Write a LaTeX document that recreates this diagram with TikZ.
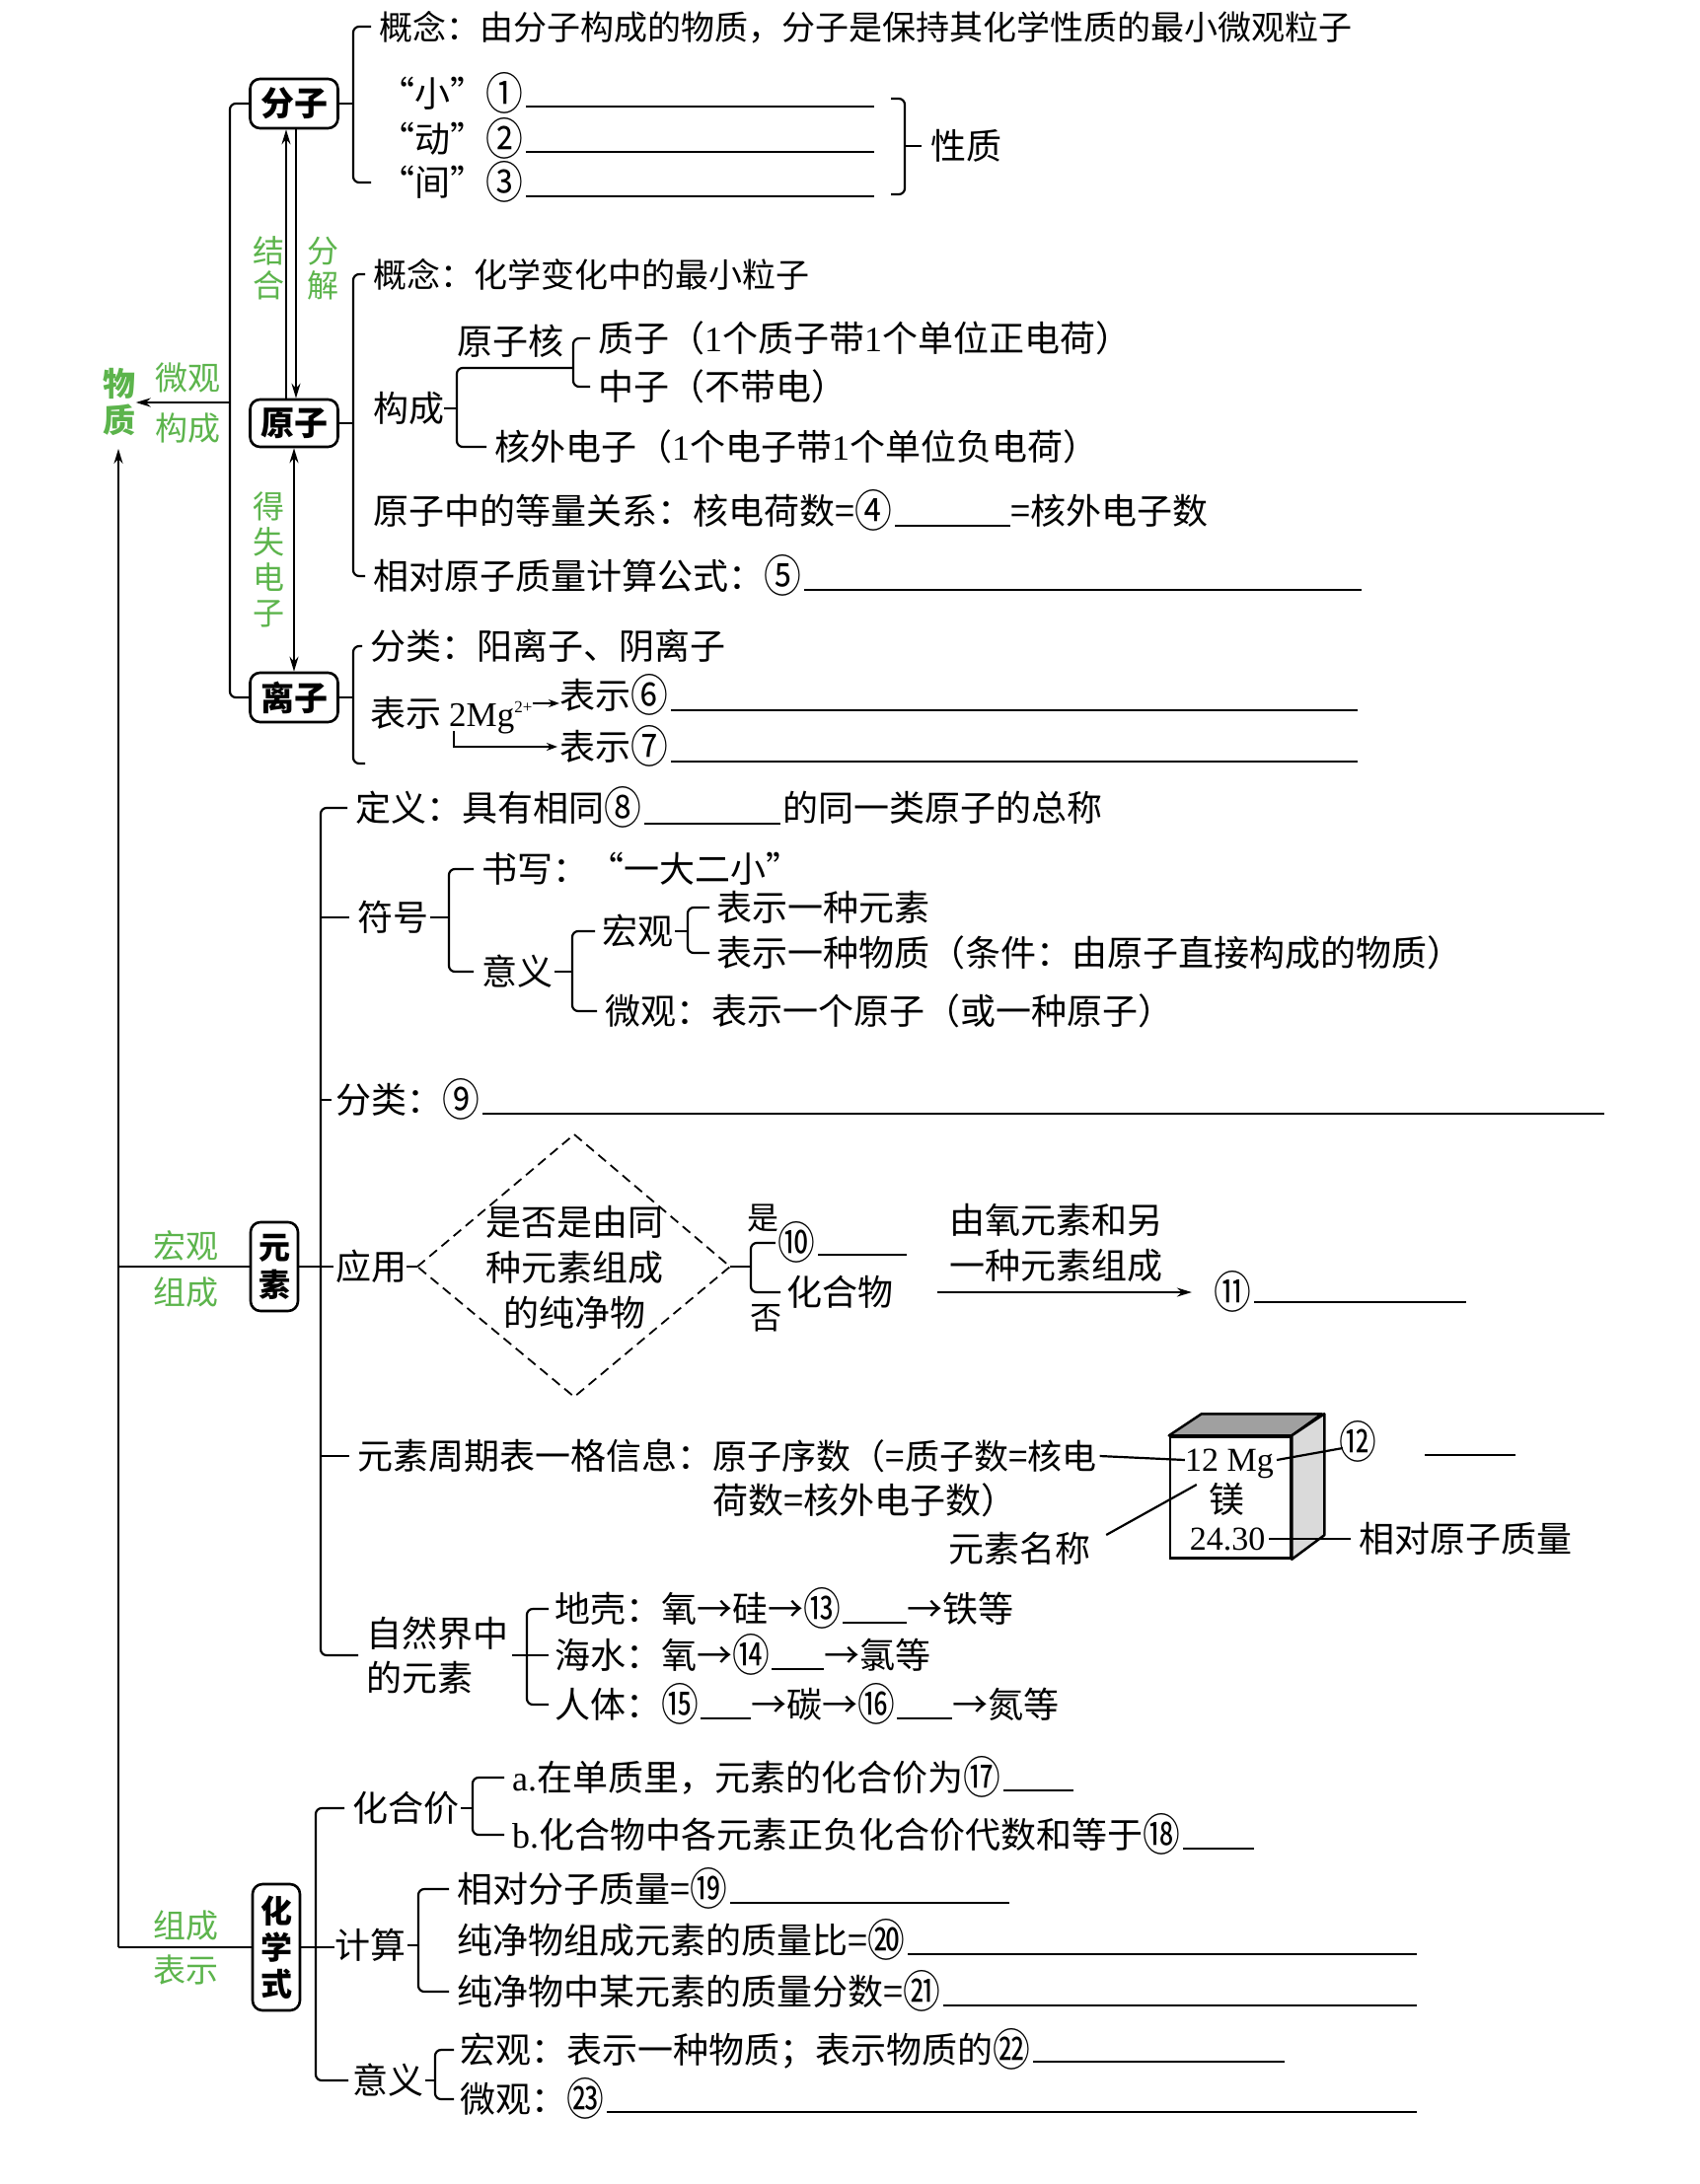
\documentclass[tikz,border=0pt]{standalone}
\usepackage{graphicx}
\usepackage{fontspec}
\setmainfont{Noto Sans CJK SC}
\newfontfamily\tnr{Liberation Serif}
\usetikzlibrary{arrows.meta}
\definecolor{lg}{RGB}{92,180,76}
\definecolor{topgray}{RGB}{160,160,160}
\definecolor{sidegray}{RGB}{218,218,218}
\newcommand\cn[1]{\raisebox{-3.2pt}{\scalebox{1.05}[1.25]{#1}}}
\newcommand\blankln[3]{\path (#1.east) ++(3,#2) coordinate (blkS); \draw[blankline] (blkS) -- (blkS -| #3,0);}
\tikzset{
  txt/.style={anchor=west, inner sep=0pt, text height=31pt, text depth=5pt, font=\fontsize{36}{45}\selectfont},
  mtxt/.style={inner sep=0pt, font=\fontsize{36}{46}\selectfont},
  ltxt/.style={inner sep=0pt, text height=24pt, text depth=2pt, font=\tnr\fontsize{34}{40}\selectfont},
  gtxt/.style={inner sep=0pt, text=lg, font=\fontsize{33}{36}\selectfont},
  mbox/.style={draw, rounded corners=10pt, line width=2.6pt, minimum width=89pt, minimum height=50pt, inner sep=0pt, font=\bfseries\fontsize{34}{40}\selectfont},
  vbox/.style={draw, rounded corners=10pt, line width=2.6pt, minimum width=48pt, inner sep=0pt, align=center, font=\bfseries\fontsize{32}{38}\selectfont},
  br/.style={line width=2.2pt, rounded corners=6pt},
  blankline/.style={line width=2.6pt},
  arr/.style={line width=2pt, -{Stealth[length=15pt,width=9pt]}},
  arrs/.style={line width=1.8pt, -{Stealth[length=11pt,width=8pt]}},
  dbl/.style={line width=2pt, {Stealth[length=15pt,width=9pt]}-{Stealth[length=15pt,width=9pt]}},
  dsh/.style={line width=1.8pt, dash pattern=on 10pt off 6pt},
}
\begin{document}
\begin{tikzpicture}[x=1pt,y=-1pt]
\useasboundingbox (0,0) rectangle (1722,2214);
\fill[white] (0,0) rectangle (1722,2214);

% ---------- spine ----------
\node[gtxt, align=center, font=\bfseries\fontsize{33}{37}\selectfont] (wz) at (121,408) {物\\质};
\coordinate (sp0) at (120,1974);
\coordinate (spT) at (120,455);
\draw[arr] (sp0) -- (spT);

\node[gtxt] (l1) at (190,383) {微观};
\node[gtxt] (l2) at (190,434) {构成};
\node[gtxt] (l3) at (188,1263) {宏观};
\node[gtxt] (l4) at (188,1310) {组成};
\node[gtxt] (l5) at (188,1952) {组成};
\node[gtxt] (l6) at (188,1997) {表示};
\node[gtxt, align=center, font=\fontsize{32}{35}\selectfont] (l7) at (272,272) {结\\合};
\node[gtxt, align=center, font=\fontsize{32}{35}\selectfont] (l8) at (327,272) {分\\解};
\node[gtxt, align=center, font=\fontsize{32}{36}\selectfont] (l9) at (272,567) {得\\失\\电\\子};

% ---------- boxes ----------
\node[mbox] (fz) at (298,105) {分子};
\node[mbox, minimum height=48pt] (yz) at (298,429) {原子};
\node[mbox] (lz) at (298,707) {离子};
\node[vbox, minimum height=90pt] (ys) at (278,1284) {元\\素};
\node[vbox, minimum height=128pt, font=\bfseries\fontsize{32}{37}\selectfont] (hx) at (280,1974) {化\\学\\式};

\draw[br] (sp0 |- ys.west) -- (ys.west);
\draw[br] (sp0) -- (hx.west);

\coordinate (bx0) at (233,0);
\draw[br] (fz.west) -- (bx0 |- fz.west) -- (bx0 |- lz.west) -- (lz.west);
\coordinate (wgS) at (233,408);
\draw[arr] (wgS) -- (wz.east |- wgS);

\draw[arr] ([xshift=-8pt]yz.north) -- ([xshift=-8pt]fz.south);
\draw[arr] ([xshift=2pt]fz.south) -- ([xshift=2pt]yz.north);
\draw[dbl] (yz.south) -- (lz.north);

% ---------- 分子 ----------
\coordinate (bx1) at (358,0);
\node[txt, font=\fontsize{34}{45}\selectfont] (a1) at (384,27) {概念：由分子构成的物质，分子是保持其化学性质的最小微观粒子};
\node[txt] (a2) at (384,95) {“小”\cn{①}};
\node[txt] (a3) at (384,141) {“动”\cn{②}};
\node[txt] (a4) at (384,185) {“间”\cn{③}};
\draw[br] ([xshift=-8pt]a1.west) -- (bx1 |- a1.west) -- (bx1 |- a4.west) -- ([xshift=-8pt]a4.west);
\draw[br] (fz.east) -- (bx1 |- fz.east);
\blankln{a2}{13}{886}
\blankln{a3}{13}{886}
\blankln{a4}{14}{886}
\node[txt] (xz) at (943,148) {性质};
\draw[br] (903,100) -- (917,100) -- (917,197) -- (903,197);
\coordinate (rb) at (917,0);
\draw[br] (rb |- xz.west) -- ([xshift=-9pt]xz.west);

% ---------- 原子 ----------
\coordinate (bx2) at (358,0);
\node[txt, font=\fontsize{34}{45}\selectfont] (b1) at (378,278) {概念：化学变化中的最小粒子};
\node[txt] (b2) at (378,414) {构成};
\node[txt] (b5) at (378,518) {原子中的等量关系：核电荷数=\cn{④}};
\node[txt] (b5b) at (1024,518) {=核外电子数};
\node[txt] (b6) at (378,584) {相对原子质量计算公式：\cn{⑤}};
\draw[br] ([xshift=-8pt]b1.west) -- (bx2 |- b1.west) -- (bx2 |- b6.west) -- ([xshift=-8pt]b6.west);
\draw[br] (yz.east) -- (bx2 |- yz.east);
\path (b5.east) ++(3,15) coordinate (s4);
\draw[blankline] (s4) -- (s4 -| b5b.west);
\blankln{b6}{14}{1380}

\coordinate (bx2a) at (463,0);
\coordinate (bx2b) at (581,0);
\coordinate (nucJ) at (581,373);
\node[txt] (yzh) at (463,346) {原子核};
\node[txt] (b3) at (606,343) {质子（{\tnr 1}个质子带{\tnr 1}个单位正电荷）};
\node[txt] (b4) at (606,392) {中子（不带电）};
\node[txt] (b4b) at (501,453) {核外电子（{\tnr 1}个电子带{\tnr 1}个单位负电荷）};
\draw[br] (b2.east) -- (bx2a |- b2.east);
\draw[br] (nucJ) -- (bx2a |- nucJ) -- (bx2a |- b4b.west) -- ([xshift=-8pt]b4b.west);
\draw[br] ([xshift=-8pt]b3.west) -- (bx2b |- b3.west) -- (bx2b |- b4.west) -- ([xshift=-8pt]b4.west);

% ---------- 离子 ----------
\coordinate (bx3) at (358,0);
\node[txt] (c1) at (375,655) {分类：阳离子、阴离子};
\node[txt] (c2) at (375,723) {表示};
\node[txt, font=\tnr\fontsize{35}{40}\selectfont] (c3) at (455,723) {2Mg\raisebox{14pt}{\fontsize{17}{17}\selectfont 2+}};
\node[txt] (c4) at (567,705) {表示\cn{⑥}};
\node[txt] (c5) at (567,757) {表示\cn{⑦}};
\coordinate (c6) at (370,774);
\draw[br] ([xshift=-8pt]c1.west) -- (bx3 |- c1.west) -- (bx3 |- c6) -- (c6);
\draw[br] (lz.east) -- (bx3 |- lz.east);
\path ([yshift=10pt]c3.east) coordinate (c3a);
\draw[arrs] (c3a) -- (c3a -| c4.west);
\draw[arrs] ([xshift=5pt]c3.south west) |- ([xshift=-2pt]c5.west);
\blankln{c4}{15}{1376}
\blankln{c5}{15}{1376}

% ---------- 元素 ----------
\coordinate (bx4) at (325,0);
\node[txt] (d1) at (360,819) {定义：具有相同\cn{⑧}};
\node[txt] (d2) at (362,930) {符号};
\node[txt] (d3) at (340,1115) {分类：\cn{⑨}};
\node[txt] (d4) at (340,1284) {应用};
\node[txt] (d5) at (362,1476) {元素周期表一格信息：};
\node[txt, font=\fontsize{35}{45}\selectfont] (d5a) at (d5.east) {原子序数（=质子数=核电};
\node[txt] (d5b) at (d5a.west |- 0,1521) {荷数=核外电子数）};
\node[mtxt, anchor=west, align=left, font=\fontsize{36}{45}\selectfont] (d6) at (371,1678) {自然界中\\的元素};
\draw[br] ([xshift=-8pt]d1.west) -- (bx4 |- d1.west) -- (bx4 |- d6.west) -- ([xshift=-8pt]d6.west);
\draw[br] (bx4 |- d2.west) -- ([xshift=-8pt]d2.west);
\draw[br] (bx4 |- d3.west) -- ([xshift=-4pt]d3.west);
\draw[br] (ys.east) -- ([xshift=-2pt]d4.west);
\draw[br] (bx4 |- d5.west) -- ([xshift=-8pt]d5.west);

\path (d1.east) ++(3,16) coordinate (s8);
\draw[blankline] (s8) -- ++(138,0) coordinate (e8);
\node[txt] (d1b) at ([xshift=2pt]e8 |- d1.west) {的同一类原子的总称};
\blankln{d3}{14}{1626}

% 符号
\coordinate (bx4a) at (455,0);
\node[txt] (e1) at (488,881) {书写：“一大二小”};
\node[txt] (e2) at (488,985) {意义};
\draw[br] ([xshift=-8pt]e1.west) -- (bx4a |- e1.west) -- (bx4a |- e2.west) -- ([xshift=-8pt]e2.west);
\draw[br] ([xshift=2pt]d2.east) -- (bx4a |- d2.east);
\coordinate (bx4b) at (580,0);
\node[txt] (e3) at (610,944) {宏观};
\node[txt] (e4) at (613,1025) {微观：表示一个原子（或一种原子）};
\draw[br] ([xshift=-7pt]e3.west) -- (bx4b |- e3.west) -- (bx4b |- e4.west) -- ([xshift=-8pt]e4.west);
\draw[br] ([xshift=2pt]e2.east) -- (bx4b |- e2.east);
\coordinate (bx4c) at (697,0);
\node[txt] (e5) at (726,920) {表示一种元素};
\node[txt] (e6) at (726,966) {表示一种物质（条件：由原子直接构成的物质）};
\draw[br] ([xshift=-7pt]e5.west) -- (bx4c |- e5.west) -- (bx4c |- e6.west) -- ([xshift=-7pt]e6.west);
\draw[br] ([xshift=2pt]e3.east) -- (bx4c |- e3.east);

% 应用
\coordinate (dmL) at (423,1284);
\coordinate (dmT) at (582,1150);
\coordinate (dmR) at (740,1284);
\coordinate (dmB) at (582,1416);
\draw[dsh] (dmL) -- (dmT) -- (dmR) -- (dmB) -- cycle;
\node[mtxt, align=center] (dmt) at (582,1285) {是否是由同\\种元素组成\\的纯净物};
\draw[br] (d4.east) -- (dmL);
\coordinate (bx4d) at (761,0);
\node[txt, anchor=center] (f1) at (807,1260) {\cn{⑩}};
\node[txt] (f2) at (797,1310) {化合物};
\draw[br] ([xshift=-2pt]f1.west) -- (bx4d |- f1.west) -- (bx4d |- f2.west) -- ([xshift=-6pt]f2.west);
\draw[br] (dmR) -- (bx4d |- dmR);
\node[txt, anchor=center, font=\fontsize{32}{36}\selectfont] (f1s) at (773,1233) {是};
\node[txt, anchor=center, font=\fontsize{32}{36}\selectfont] (f2s) at (776,1334) {否};
\blankln{f1}{12}{919}
\node[mtxt, align=center] (f4) at (1070,1260) {由氧元素和另\\一种元素组成};
\node[txt, anchor=center] (f3) at (1249,1310) {\cn{⑪}};
\draw[arr] ([xshift=45pt]f2.east) -- ([xshift=-22pt]f3.west);
\blankln{f3}{10}{1486}

% 周期表
\node[draw, line width=2.5pt, minimum width=122pt, minimum height=123pt, inner sep=0pt] (pb) at (1247,1518) {};
\filldraw[fill=topgray, line width=2.5pt, line join=round] (pb.north west) -- ++(33,-22) -- ++(122,0) -- (pb.north east) -- cycle;
\filldraw[fill=sidegray, line width=2.5pt, line join=round] (pb.north east) -- ++(33,-22) -- ++(0,123) -- (pb.south east) -- cycle;
\node[ltxt] (p12) at (1246,1480) {12 Mg};
\node[txt, anchor=center] (pmg) at (1243,1520) {镁};
\node[ltxt] (p24) at (1244,1560) {24.30};
\draw[br] ([xshift=3pt]d5a.east) -- (p12.west);
\node[txt, anchor=center] (c12) at (1376,1462) {\cn{⑫}};
\draw[br] ([xshift=3pt]p12.east) -- ([xshift=4pt,yshift=-6pt]c12.west);
\path (c12.east) ++(49,13) coordinate (s12);
\draw[blankline] (s12) -- (s12 -| 1536,0);
\node[txt, anchor=center] (ymc) at (1033,1570) {元素名称};
\draw[br] ([xshift=16pt,yshift=14pt]ymc.east) -- ([xshift=-12pt,yshift=15pt]pmg.west);
\node[txt] (xdz) at (1377,1560) {相对原子质量};
\draw[br] ([xshift=4pt]p24.east) -- ([xshift=-8pt]xdz.west);

% 自然界
\coordinate (bx4e) at (534,0);
\node[txt] (g1) at (562,1631) {地壳：氧→硅→\cn{⑬}};
\node[txt] (g2) at (562,1678) {海水：氧→\cn{⑭}};
\node[txt] (g3) at (562,1728) {人体：\cn{⑮}};
\draw[br] ([xshift=-6pt]g1.west) -- (bx4e |- g1.west) -- (bx4e |- g3.west) -- ([xshift=-6pt]g3.west);
\draw[br] ([xshift=4pt]d6.east) -- ([xshift=-6pt]g2.west);
\path (g1.east) ++(2,14) coordinate (s13);
\draw[blankline] (s13) -- ++(65,0) coordinate (e13);
\node[txt] (g1b) at (e13 |- g1.west) {→铁等};
\path (g2.east) ++(2,14) coordinate (s14);
\draw[blankline] (s14) -- ++(53,0) coordinate (e14);
\node[txt] (g2b) at (e14 |- g2.west) {→氯等};
\path (g3.east) ++(2,14) coordinate (s15);
\draw[blankline] (s15) -- ++(51,0) coordinate (e15);
\node[txt] (g3b) at (e15 |- g3.west) {→碳→\cn{⑯}};
\path (g3b.east) ++(2,14) coordinate (s16);
\draw[blankline] (s16) -- ++(56,0) coordinate (e16);
\node[txt] (g3c) at (e16 |- g3.west) {→氮等};

% ---------- 化学式 ----------
\coordinate (bx5) at (320,0);
\node[txt] (h1) at (357,1833) {化合价};
\node[txt] (h2) at (339,1972) {计算};
\node[txt] (h3) at (357,2109) {意义};
\draw[br] ([xshift=-8pt]h1.west) -- (bx5 |- h1.west) -- (bx5 |- h3.west) -- ([xshift=-4pt]h3.west);
\draw[br] (hx.east) -- (hx.east -| h2.west);

\coordinate (bx5a) at (479,0);
\node[txt] (i1) at (519,1802) {{\tnr a.}在单质里，元素的化合价为\cn{⑰}};
\node[txt] (i2) at (519,1860) {{\tnr b.}化合物中各元素正负化合价代数和等于\cn{⑱}};
\draw[br] ([xshift=-8pt]i1.west) -- (bx5a |- i1.west) -- (bx5a |- i2.west) -- ([xshift=-8pt]i2.west);
\draw[br] ([xshift=2pt]h1.east) -- (bx5a |- h1.east);
\path (i1.east) ++(3,13) coordinate (s17);
\draw[blankline] (s17) -- ++(71,0);
\path (i2.east) ++(3,14) coordinate (s18);
\draw[blankline] (s18) -- ++(72,0);

\coordinate (bx5b) at (424,0);
\node[txt] (j1) at (463,1915) {相对分子质量=\cn{⑲}};
\node[txt] (j2) at (463,1967) {纯净物组成元素的质量比=\cn{⑳}};
\node[txt] (j3) at (463,2019) {纯净物中某元素的质量分数=\cn{㉑}};
\draw[br] ([xshift=-8pt]j1.west) -- (bx5b |- j1.west) -- (bx5b |- j3.west) -- ([xshift=-8pt]j3.west);
\draw[br] ([xshift=2pt]h2.east) -- (bx5b |- h2.east);
\blankln{j1}{14}{1023}
\blankln{j2}{14}{1436}
\blankln{j3}{14}{1436}

\coordinate (bx5c) at (441,0);
\node[txt] (k1) at (466,2078) {宏观：表示一种物质；表示物质的\cn{㉒}};
\node[txt] (k2) at (466,2128) {微观：\cn{㉓}};
\draw[br] ([xshift=-6pt]k1.west) -- (bx5c |- k1.west) -- (bx5c |- k2.west) -- ([xshift=-6pt]k2.west);
\draw[br] ([xshift=2pt]h3.east) -- (bx5c |- h3.east);
\blankln{k1}{12}{1302}
\blankln{k2}{13}{1436}
\end{tikzpicture}
\end{document}
